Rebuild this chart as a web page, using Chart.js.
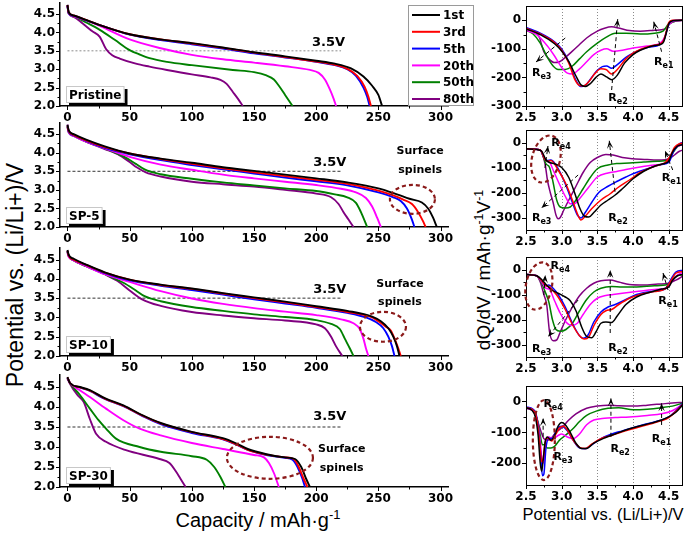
<!DOCTYPE html>
<html><head><meta charset="utf-8">
<script src="https://cdn.jsdelivr.net/npm/chart.js@4.4.1/dist/chart.umd.min.js"></script>
<style>
html,body{margin:0;padding:0;background:#fff;}
body{width:688px;height:534px;overflow:hidden;position:relative;font-family:"Liberation Sans",Arial,sans-serif;}
canvas{position:absolute;}
.t{position:absolute;white-space:nowrap;color:#000;line-height:1;}
.t sup{font-size:65%;vertical-align:0.55em;}
</style></head><body>
<div class="t" style="left:15px;top:275px;font-size:23px;transform:translate(-50%,-50%) rotate(-90deg)">Potential vs. (Li/Li+)/V</div>
<div class="t" style="left:258px;top:519px;font-size:20px;transform:translate(-50%,-50%)">Capacity / mAh·g<sup>-1</sup></div>
<div class="t" style="left:603px;top:514px;font-size:16.5px;transform:translate(-50%,-50%)">Potential vs. (Li/Li+)/V</div>
<div class="t" style="left:483px;top:270px;font-size:19px;transform:translate(-50%,-50%) rotate(-90deg)">dQ/dV / mAh·g<sup>-1</sup>V<sup>-1</sup></div>
<script>
// ================= DATA =================
const cycleLabels = ['1st','3rd','5th','20th','50th','80th'];
const capTicks  = [0,50,100,150,200,250,300];
const voltTicks = [2.0,2.5,3.0,3.5,4.0,4.5];
const potTicks  = [2.5,3.0,3.5,4.0,4.5];
const dqTicks   = [0,-100,-200,-300];
const dqTicksSP30 = [0,-100,-200];
const sampleNames = ['Pristine','SP-5','SP-10','SP-30'];
const refLine = [[0,3.5],[220,3.5]];

// discharge curves [capacity mAh/g, potential V]
const pri_1st  = [[0,4.75],[1,4.55],[5,4.46],[15,4.34],[26,4.2],[50,3.95],[75,3.81],[100,3.71],[125,3.59],[150,3.46],[175,3.35],[200,3.23],[215,3.15],[228,3.02],[238,2.8],[245,2.55],[250,2.3],[253,2.0]];
const pri_3rd  = [[0,4.74],[1,4.54],[5,4.46],[15,4.34],[26,4.2],[50,3.95],[75,3.81],[100,3.70],[125,3.58],[150,3.45],[175,3.33],[200,3.21],[215,3.12],[225,3.01],[233,2.82],[239,2.52],[242,2.25],[244,2.0]];
const pri_5th  = [[0,4.72],[1,4.52],[5,4.45],[15,4.33],[26,4.2],[50,3.94],[75,3.79],[100,3.68],[125,3.56],[150,3.43],[175,3.32],[200,3.2],[215,3.11],[225,3.0],[232,2.82],[238,2.5],[241,2.25],[243,2.0]];
const pri_20th = [[0,4.72],[1,4.52],[5,4.44],[15,4.33],[26,4.18],[50,3.81],[75,3.57],[100,3.39],[125,3.27],[150,3.18],[175,3.08],[195,2.98],[202,2.9],[207,2.72],[211,2.45],[214,2.2],[216,2.0]];
const pri_50th = [[0,4.72],[1,4.52],[5,4.44],[15,4.27],[26,4.07],[38,3.8],[50,3.52],[58,3.4],[66,3.3],[80,3.2],[100,3.11],[133,2.98],[150,2.92],[160,2.83],[166,2.72],[170,2.55],[175,2.3],[181,2.0]];
const pri_80th = [[0,4.75],[1,4.52],[5,4.42],[12,4.25],[20,4.03],[26,3.88],[31,3.55],[36,3.38],[42,3.29],[55,3.15],[66,3.07],[80,2.98],[100,2.86],[115,2.78],[123,2.71],[128,2.6],[133,2.38],[137,2.2],[141,2.0]];

const sp5_1st  = [[0,4.75],[1,4.6],[5,4.5],[15,4.35],[30,4.17],[50,3.98],[75,3.84],[100,3.73],[125,3.61],[150,3.51],[175,3.41],[200,3.31],[225,3.2],[250,3.04],[265,2.88],[275,2.76],[285,2.66],[290,2.5],[294,2.25],[297,2.0]];
const sp5_3rd  = [[0,4.72],[1,4.58],[5,4.48],[15,4.33],[30,4.15],[50,3.98],[75,3.83],[100,3.7],[125,3.58],[150,3.47],[175,3.37],[200,3.27],[225,3.16],[250,2.98],[262,2.85],[270,2.74],[277,2.62],[282,2.4],[286,2.15],[288,2.0]];
const sp5_5th  = [[0,4.72],[1,4.56],[5,4.47],[15,4.32],[30,4.13],[50,3.96],[75,3.8],[100,3.67],[125,3.55],[150,3.44],[175,3.33],[200,3.23],[225,3.12],[250,2.93],[262,2.8],[268,2.7],[273,2.5],[277,2.2],[279,2.0]];
const sp5_20th = [[0,4.68],[1,4.55],[5,4.45],[15,4.3],[30,4.12],[50,3.89],[75,3.68],[100,3.54],[125,3.41],[150,3.31],[175,3.22],[200,3.13],[220,3.03],[232,2.93],[240,2.78],[245,2.55],[249,2.25],[252,2.0]];
const sp5_50th = [[0,4.7],[1,4.55],[5,4.45],[15,4.3],[30,4.12],[45,3.9],[55,3.7],[62,3.55],[75,3.42],[100,3.3],[125,3.2],[150,3.12],[175,3.04],[200,2.97],[215,2.88],[225,2.8],[232,2.65],[236,2.4],[241,2.0]];
const sp5_80th = [[0,4.76],[1,4.6],[5,4.47],[15,4.3],[30,4.1],[42,3.93],[50,3.75],[56,3.6],[63,3.47],[75,3.36],[100,3.22],[125,3.15],[150,3.09],[175,3.0],[200,2.9],[212,2.8],[218,2.62],[222,2.4],[226,2.2],[230,2.0]];

const sp10_1st  = [[0,4.75],[1,4.62],[5,4.52],[15,4.37],[30,4.17],[50,3.98],[75,3.85],[100,3.75],[125,3.63],[150,3.52],[175,3.41],[200,3.29],[225,3.17],[245,3.02],[252,2.9],[258,2.72],[262,2.5],[265,2.25],[267,2.0]];
const sp10_3rd  = [[0,4.73],[1,4.6],[5,4.5],[15,4.36],[30,4.16],[50,3.98],[75,3.84],[100,3.74],[125,3.62],[150,3.5],[175,3.39],[200,3.27],[225,3.14],[245,3.0],[250,2.9],[256,2.76],[260,2.66],[263,2.45],[266,2.2],[268,2.0]];
const sp10_5th  = [[0,4.72],[1,4.6],[5,4.5],[15,4.36],[30,4.15],[50,3.96],[75,3.82],[100,3.71],[125,3.59],[150,3.47],[175,3.36],[200,3.25],[225,3.12],[240,3.0],[248,2.88],[254,2.72],[258,2.5],[261,2.25],[263,2.0]];
const sp10_20th = [[0,4.68],[1,4.57],[5,4.48],[15,4.33],[30,4.12],[50,3.92],[75,3.68],[100,3.49],[125,3.35],[150,3.24],[175,3.15],[200,3.06],[220,2.95],[230,2.85],[235,2.7],[238,2.45],[240,2.2],[242,2.0]];
const sp10_50th = [[0,4.7],[1,4.58],[5,4.48],[15,4.33],[30,4.12],[45,3.9],[55,3.7],[62,3.55],[75,3.42],[100,3.27],[125,3.17],[150,3.08],[175,3.01],[200,2.93],[212,2.83],[219,2.7],[223,2.45],[227,2.2],[230,2.0]];
const sp10_80th = [[0,4.72],[1,4.6],[5,4.48],[15,4.33],[30,4.12],[40,3.95],[50,3.7],[60,3.47],[75,3.3],[100,3.14],[125,3.05],[150,2.98],[175,2.92],[200,2.82],[207,2.72],[212,2.5],[216,2.25],[221,2.0]];

const sp30_1st  = [[0,4.75],[2,4.6],[10,4.5],[18,4.42],[30,4.22],[45,4.04],[60,3.8],[75,3.6],[100,3.38],[125,3.22],[135,3.1],[145,2.95],[160,2.82],[175,2.74],[183,2.7],[188,2.5],[192,2.2],[195,2.0]];
const sp30_3rd  = [[0,4.74],[2,4.6],[10,4.49],[18,4.41],[30,4.21],[45,4.03],[60,3.79],[75,3.59],[100,3.37],[125,3.2],[135,3.08],[145,2.93],[160,2.81],[175,2.74],[182,2.7],[186,2.5],[190,2.2],[193,2.0]];
const sp30_5th  = [[0,4.73],[2,4.6],[10,4.49],[18,4.4],[30,4.2],[45,4.02],[60,3.78],[75,3.57],[100,3.35],[125,3.19],[135,3.07],[145,2.93],[160,2.8],[175,2.73],[181,2.68],[185,2.5],[189,2.2],[191,2.0]];
const sp30_20th = [[0,4.72],[2,4.6],[10,4.42],[18,4.25],[31,3.96],[45,3.67],[58,3.46],[75,3.29],[100,3.1],[125,2.95],[150,2.8],[158,2.74],[162,2.6],[166,2.35],[170,2.0]];
const sp30_50th = [[0,4.72],[2,4.6],[10,4.3],[18,3.96],[25,3.67],[31,3.46],[39,3.21],[58,3.0],[75,2.88],[100,2.77],[112,2.68],[118,2.5],[123,2.25],[127,2.0]];
const sp30_80th = [[0,4.72],[2,4.58],[8,4.3],[13,4.13],[18,3.7],[23,3.33],[31,3.13],[47,2.92],[74,2.7],[82,2.6],[87,2.4],[91,2.2],[95,2.0]];

// dQ/dV curves [potential V, dQ/dV]
const dq_pri_1st  = [[2.5,-30],[2.7,-50],[2.9,-82],[3.0,-108],[3.1,-145],[3.2,-195],[3.27,-226],[3.33,-232],[3.4,-222],[3.48,-200],[3.55,-188],[3.63,-198],[3.7,-208],[3.78,-192],[3.88,-150],[4.0,-120],[4.1,-105],[4.2,-95],[4.3,-88],[4.38,-85],[4.43,-75],[4.47,-40],[4.5,-12],[4.55,-2],[4.7,0]];
const dq_pri_3rd  = [[2.5,-28],[2.7,-48],[2.9,-78],[3.0,-105],[3.1,-150],[3.18,-205],[3.25,-228],[3.3,-230],[3.38,-215],[3.47,-185],[3.55,-170],[3.62,-172],[3.7,-188],[3.78,-172],[3.9,-135],[4.0,-115],[4.1,-102],[4.2,-93],[4.3,-87],[4.38,-83],[4.43,-70],[4.47,-35],[4.5,-8],[4.55,0],[4.7,0]];
const dq_pri_5th  = [[2.5,-25],[2.7,-45],[2.9,-75],[3.0,-100],[3.1,-145],[3.2,-210],[3.27,-232],[3.33,-228],[3.42,-200],[3.5,-175],[3.57,-162],[3.63,-160],[3.7,-168],[3.78,-155],[3.9,-130],[4.0,-115],[4.2,-95],[4.38,-85],[4.44,-65],[4.48,-30],[4.52,-5],[4.6,0],[4.7,0]];
const dq_pri_20th = [[2.5,-35],[2.65,-50],[2.8,-90],[2.9,-125],[3.0,-165],[3.08,-185],[3.15,-188],[3.25,-170],[3.35,-145],[3.45,-120],[3.55,-105],[3.63,-100],[3.72,-108],[3.85,-105],[4.0,-97],[4.2,-90],[4.38,-80],[4.45,-55],[4.5,-15],[4.6,-2],[4.7,0]];
const dq_pri_50th = [[2.5,-35],[2.6,-48],[2.7,-80],[2.8,-130],[2.88,-160],[2.95,-172],[3.05,-172],[3.15,-160],[3.25,-135],[3.35,-110],[3.5,-80],[3.62,-60],[3.75,-45],[3.9,-45],[4.1,-48],[4.3,-45],[4.42,-38],[4.5,-12],[4.6,-3],[4.7,0]];
const dq_pri_80th = [[2.5,-30],[2.6,-38],[2.68,-55],[2.75,-110],[2.82,-135],[2.9,-148],[2.97,-145],[3.05,-130],[3.15,-108],[3.25,-85],[3.35,-62],[3.5,-38],[3.6,-28],[3.7,-23],[3.8,-27],[3.95,-36],[4.1,-38],[4.3,-35],[4.45,-30],[4.52,-12],[4.6,-3],[4.7,0]];

const dq_sp5_1st  = [[2.5,-25],[2.65,-28],[2.72,-35],[2.78,-70],[2.83,-80],[2.9,-85],[3.0,-100],[3.1,-140],[3.18,-200],[3.25,-260],[3.32,-295],[3.38,-298],[3.45,-280],[3.55,-250],[3.65,-230],[3.75,-210],[3.85,-185],[4.0,-145],[4.15,-115],[4.3,-95],[4.42,-85],[4.5,-75],[4.55,-40],[4.62,-15],[4.7,-8]];
const dq_sp5_3rd  = [[2.5,-25],[2.7,-30],[2.76,-65],[2.8,-75],[2.85,-72],[2.95,-110],[3.05,-160],[3.15,-230],[3.22,-285],[3.27,-310],[3.33,-295],[3.42,-265],[3.55,-230],[3.68,-205],[3.78,-182],[3.95,-150],[4.1,-120],[4.3,-95],[4.45,-80],[4.52,-55],[4.58,-20],[4.65,-5],[4.7,-3]];
const dq_sp5_5th  = [[2.5,-25],[2.7,-30],[2.75,-60],[2.8,-72],[2.85,-70],[2.95,-105],[3.05,-165],[3.15,-240],[3.22,-290],[3.27,-302],[3.33,-280],[3.42,-240],[3.52,-200],[3.65,-175],[3.78,-155],[3.9,-138],[4.0,-125],[4.2,-105],[4.4,-88],[4.5,-80],[4.57,-35],[4.65,-5],[4.7,0]];
const dq_sp5_20th = [[2.5,-25],[2.7,-30],[2.74,-50],[2.78,-72],[2.83,-78],[2.88,-110],[2.95,-155],[3.05,-215],[3.12,-245],[3.18,-245],[3.25,-225],[3.37,-182],[3.5,-138],[3.65,-122],[3.77,-116],[3.9,-108],[4.1,-98],[4.3,-90],[4.47,-80],[4.53,-50],[4.6,-20],[4.7,-8]];
const dq_sp5_50th = [[2.5,-25],[2.7,-30],[2.74,-55],[2.78,-85],[2.83,-100],[2.88,-160],[2.93,-230],[2.98,-258],[3.05,-262],[3.12,-258],[3.2,-230],[3.3,-185],[3.4,-140],[3.5,-105],[3.65,-90],[3.77,-84],[3.95,-82],[4.15,-78],[4.35,-75],[4.5,-70],[4.56,-40],[4.63,-15],[4.7,-5]];
const dq_sp5_80th = [[2.5,-25],[2.7,-30],[2.73,-45],[2.77,-90],[2.8,-150],[2.84,-200],[2.88,-240],[2.92,-290],[2.95,-305],[2.98,-300],[3.03,-270],[3.1,-230],[3.2,-175],[3.3,-120],[3.4,-80],[3.5,-60],[3.62,-48],[3.72,-50],[3.85,-60],[4.0,-65],[4.2,-68],[4.4,-70],[4.5,-65],[4.58,-50],[4.65,-35],[4.7,-30]];

const dq_sp10_1st  = [[2.5,-20],[2.65,-25],[2.72,-40],[2.78,-60],[2.85,-80],[2.95,-95],[3.05,-110],[3.12,-125],[3.2,-165],[3.28,-230],[3.35,-268],[3.42,-273],[3.48,-250],[3.55,-215],[3.62,-210],[3.7,-212],[3.78,-185],[3.9,-140],[4.05,-110],[4.25,-90],[4.4,-78],[4.5,-70],[4.55,-45],[4.62,-25],[4.7,-20]];
const dq_sp10_3rd  = [[2.5,-20],[2.65,-25],[2.72,-45],[2.78,-65],[2.82,-68],[2.88,-85],[2.95,-110],[3.05,-160],[3.15,-220],[3.25,-265],[3.32,-278],[3.38,-270],[3.45,-225],[3.55,-180],[3.62,-165],[3.7,-160],[3.8,-140],[3.95,-115],[4.1,-100],[4.3,-88],[4.45,-78],[4.52,-50],[4.6,-15],[4.7,-8]];
const dq_sp10_5th  = [[2.5,-20],[2.65,-25],[2.72,-45],[2.78,-65],[2.82,-62],[2.88,-75],[2.95,-100],[3.05,-150],[3.15,-215],[3.25,-265],[3.3,-275],[3.37,-262],[3.45,-210],[3.55,-170],[3.65,-150],[3.75,-140],[3.9,-120],[4.05,-100],[4.25,-88],[4.45,-78],[4.53,-40],[4.6,-10],[4.7,-3]];
const dq_sp10_20th = [[2.5,-20],[2.65,-25],[2.72,-50],[2.78,-75],[2.83,-80],[2.9,-125],[2.98,-175],[3.06,-210],[3.14,-224],[3.22,-215],[3.3,-180],[3.4,-140],[3.5,-115],[3.6,-105],[3.72,-100],[3.85,-95],[4.05,-88],[4.3,-80],[4.48,-72],[4.55,-45],[4.62,-22],[4.7,-12]];
const dq_sp10_50th = [[2.5,-20],[2.65,-25],[2.72,-55],[2.77,-90],[2.82,-130],[2.87,-200],[2.92,-240],[2.98,-247],[3.06,-240],[3.15,-215],[3.25,-165],[3.35,-120],[3.45,-90],[3.55,-75],[3.7,-68],[3.85,-70],[4.05,-70],[4.3,-65],[4.48,-60],[4.55,-40],[4.62,-25],[4.7,-20]];
const dq_sp10_80th = [[2.5,-20],[2.65,-25],[2.7,-50],[2.75,-100],[2.79,-140],[2.83,-250],[2.88,-285],[2.93,-282],[2.98,-250],[3.05,-205],[3.15,-150],[3.25,-105],[3.35,-75],[3.45,-55],[3.55,-45],[3.68,-42],[3.8,-50],[3.95,-60],[4.15,-62],[4.35,-58],[4.5,-55],[4.58,-45],[4.65,-35],[4.7,-25]];

const dq_sp30_1st  = [[2.5,-20],[2.58,-28],[2.63,-50],[2.67,-110],[2.7,-200],[2.72,-225],[2.74,-190],[2.77,-130],[2.8,-115],[2.85,-125],[2.9,-110],[2.95,-80],[3.0,-68],[3.05,-75],[3.12,-100],[3.2,-135],[3.28,-152],[3.35,-152],[3.45,-135],[3.6,-118],[3.75,-105],[3.9,-92],[4.05,-82],[4.25,-70],[4.4,-60],[4.5,-50],[4.6,-35],[4.7,-10]];
const dq_sp30_3rd  = [[2.5,-20],[2.6,-28],[2.65,-55],[2.69,-130],[2.72,-195],[2.74,-185],[2.77,-130],[2.8,-118],[2.86,-128],[2.92,-105],[2.97,-85],[3.02,-80],[3.08,-92],[3.16,-125],[3.25,-148],[3.33,-152],[3.42,-138],[3.55,-120],[3.7,-110],[3.85,-98],[4.0,-88],[4.2,-75],[4.4,-62],[4.5,-52],[4.6,-32],[4.7,-8]];
const dq_sp30_5th  = [[2.5,-18],[2.6,-25],[2.65,-50],[2.7,-150],[2.73,-240],[2.75,-235],[2.78,-150],[2.82,-120],[2.87,-120],[2.93,-90],[3.0,-80],[3.08,-95],[3.16,-125],[3.25,-150],[3.33,-153],[3.42,-140],[3.55,-120],[3.7,-105],[3.85,-95],[4.0,-85],[4.2,-72],[4.4,-60],[4.5,-50],[4.6,-30],[4.7,-5]];
const dq_sp30_20th = [[2.5,-22],[2.6,-30],[2.65,-55],[2.7,-130],[2.73,-200],[2.75,-195],[2.78,-130],[2.82,-115],[2.88,-120],[2.95,-110],[3.0,-105],[3.08,-115],[3.16,-120],[3.25,-105],[3.35,-75],[3.45,-60],[3.6,-54],[3.75,-52],[3.95,-50],[4.2,-45],[4.4,-40],[4.55,-30],[4.7,-8]];
const dq_sp30_50th = [[2.5,-22],[2.6,-30],[2.66,-60],[2.7,-110],[2.73,-140],[2.76,-140],[2.8,-150],[2.85,-150],[2.9,-145],[2.97,-125],[3.05,-110],[3.15,-90],[3.25,-65],[3.35,-45],[3.5,-30],[3.65,-22],[3.8,-20],[4.0,-27],[4.2,-25],[4.4,-20],[4.55,-15],[4.7,-5]];
const dq_sp30_80th = [[2.5,-20],[2.6,-30],[2.65,-55],[2.7,-90],[2.75,-120],[2.8,-125],[2.85,-120],[2.9,-105],[3.0,-85],[3.1,-60],[3.2,-40],[3.35,-22],[3.5,-15],[3.65,-12],[3.8,-14],[4.0,-15],[4.2,-12],[4.4,-8],[4.55,-5],[4.7,-3]];

// ================= STYLE / LAYOUT =================
const cycleColors = ['#000000','#ff0000','#0000ff','#ff00ff','#008000','#800080'];
const TICKFONT = {family:'DejaVu Sans', size:12, weight:'bold'};
Chart.defaults.font.family = 'DejaVu Sans';
Chart.defaults.color = '#000';

function mid(a){ const m=[]; for(let i=0;i<a.length-1;i++) m.push((a[i]+a[i+1])/2); return m; }
function toXY(arr){ return arr.map(p=>({x:p[0], y:p[1]})); }

function makeDecor(cfg){
  return {
    id:'decor',
    beforeDatasetsDraw(chart){
      const {ctx, chartArea:a, scales:{x}} = chart;
      if (cfg.vgrid){
        ctx.save(); ctx.strokeStyle='#8a8a8a'; ctx.lineWidth=1; ctx.setLineDash([1,2]);
        cfg.vgrid.forEach(v=>{ const px=Math.round(x.getPixelForValue(v))+0.5;
          ctx.beginPath(); ctx.moveTo(px,a.top); ctx.lineTo(px,a.bottom); ctx.stroke(); });
        ctx.restore();
      }
    },
    afterDraw(chart){
      const {ctx, chartArea:a, scales:{x,y}} = chart;
      ctx.save();
      if (cfg.legend){
        const lx=a.right-40, ly=a.top+2, lw=65, lh=a.bottom-1-ly;
        ctx.fillStyle='#fff'; ctx.fillRect(lx,ly,lw,lh);
        ctx.strokeStyle='#9a9a9a'; ctx.lineWidth=1; ctx.strokeRect(lx+0.5,ly+0.5,lw,lh);
        ctx.font='bold 12px "DejaVu Sans"'; ctx.textAlign='left'; ctx.textBaseline='middle';
        chart.data.datasets.slice(0,6).forEach((ds,i)=>{
          const ry = ly+10+i*16.8;
          ctx.strokeStyle=ds.borderColor; ctx.lineWidth=2;
          ctx.beginPath(); ctx.moveTo(lx+4,ry); ctx.lineTo(lx+32,ry); ctx.stroke();
          ctx.fillStyle='#000'; ctx.fillText(ds.label, lx+35, ry+1);
        });
      }
      if (cfg.frame){
        ctx.strokeStyle='#000'; ctx.lineWidth=1;
        ctx.strokeRect(Math.round(a.left)+0.5, Math.round(a.top)+0.5, Math.round(a.right-a.left)-1, Math.round(a.bottom-a.top));
      }
      ctx.strokeStyle='#000'; ctx.lineWidth=1;
      const xt = cfg.xTicks.map(v=>[v,4]).concat(mid(cfg.xTicks).map(v=>[v,2.5]));
      xt.forEach(([v,len])=>{ const px=Math.round(x.getPixelForValue(v))+0.5;
        ctx.beginPath(); ctx.moveTo(px,a.bottom); ctx.lineTo(px,a.bottom+len); ctx.stroke(); });
      const yt = cfg.yTicks.map(v=>[v,4]).concat(mid(cfg.yTicks).map(v=>[v,2.5]));
      yt.forEach(([v,len])=>{ const py=Math.round(y.getPixelForValue(v))+0.5;
        ctx.beginPath(); ctx.moveTo(a.left,py); ctx.lineTo(a.left-len,py); ctx.stroke(); });
      (cfg.notes||[]).forEach(n=>{
        if (n.t==='text'){
          ctx.font=n.font; ctx.fillStyle='#000'; ctx.textAlign='center'; ctx.textBaseline='middle';
          ctx.fillText(n.s, x.getPixelForValue(n.x), y.getPixelForValue(n.y));
        } else if (n.t==='re'){
          const px=x.getPixelForValue(n.x), py=y.getPixelForValue(n.y);
          ctx.font='bold 11px "DejaVu Sans"'; const w1=ctx.measureText('R').width;
          ctx.font='bold 8px "DejaVu Sans"'; const w2=ctx.measureText(n.s).width;
          const x0=px-(w1+w2)/2; ctx.fillStyle='#000'; ctx.textAlign='left'; ctx.textBaseline='alphabetic';
          ctx.font='bold 11px "DejaVu Sans"'; ctx.fillText('R', x0, py+4);
          ctx.font='bold 8px "DejaVu Sans"'; ctx.fillText(n.s, x0+w1, py+7);
        } else if (n.t==='ell'){
          const cx=x.getPixelForValue(n.x), cy=y.getPixelForValue(n.y);
          const rx=Math.abs(x.getPixelForValue(n.x+n.rx)-cx), ry=Math.abs(y.getPixelForValue(n.y+n.ry)-cy);
          ctx.strokeStyle='#8b1a1a'; ctx.lineWidth=2.2; ctx.setLineDash([4,3]);
          ctx.beginPath(); ctx.ellipse(cx,cy,rx,ry,n.rot||0,0,Math.PI*2); ctx.stroke(); ctx.setLineDash([]);
        } else if (n.t==='arrow'){
          const x1=x.getPixelForValue(n.x1), y1=y.getPixelForValue(n.y1), x2=x.getPixelForValue(n.x2), y2=y.getPixelForValue(n.y2);
          ctx.strokeStyle='#000'; ctx.fillStyle='#000'; ctx.lineWidth=1; ctx.setLineDash([4,3]);
          ctx.beginPath(); ctx.moveTo(x1,y1); ctx.lineTo(x2,y2); ctx.stroke(); ctx.setLineDash([]);
          const ang=Math.atan2(y2-y1,x2-x1), L=8, W=3.2, c=Math.cos(ang), s=Math.sin(ang);
          ctx.beginPath(); ctx.moveTo(x2,y2);
          ctx.lineTo(x2-L*c+W*s, y2-L*s-W*c); ctx.lineTo(x2-0.55*L*c, y2-0.55*L*s);
          ctx.lineTo(x2-L*c-W*s, y2-L*s+W*c); ctx.closePath(); ctx.fill();
        }
      });
      if (cfg.label){
        ctx.font='bold 12px "DejaVu Sans"'; const tw=ctx.measureText(cfg.label).width;
        const bw=tw+6, bh=17, bx=Math.round(x.getPixelForValue(0))-1, by=Math.round(a.bottom)-bh-3;
        ctx.fillStyle='#000'; ctx.fillRect(bx+3,by+3,bw,bh);
        ctx.fillStyle='#fff'; ctx.fillRect(bx,by,bw,bh);
        ctx.strokeStyle='#c8c8c8'; ctx.lineWidth=1; ctx.strokeRect(bx+0.5,by+0.5,bw-1,bh-1);
        ctx.fillStyle='#000'; ctx.textAlign='center'; ctx.textBaseline='middle';
        ctx.fillText(cfg.label, bx+bw/2, by+bh/2+1);
      }
      ctx.restore();
    }
  };
}

function makePanel(p){
  const padT=14, padB=22, padL=p.axisW, padR=p.padR;
  const W=(p.r-p.l)+padL+padR, H=(p.b-p.t)+padT+padB;
  const c=document.createElement('canvas');
  c.width=W; c.height=H; c.style.width=W+'px'; c.style.height=H+'px';
  c.style.left=(p.l-padL)+'px'; c.style.top=(p.t-padT)+'px';
  document.body.appendChild(c);
  const datasets = p.series.map((s,i)=>({
    label: cycleLabels[i], data: toXY(s), borderColor: cycleColors[i], backgroundColor: cycleColors[i],
    borderWidth: p.lw, pointRadius:0, fill:false, cubicInterpolationMode:'monotone'
  }));
  if (p.ref){ datasets.push({label:'ref', data:toXY(p.ref), borderColor:p.refColor, borderWidth:1, borderDash:p.refDash, pointRadius:0, fill:false}); }
  const fmtX = p.xFmt, fmtY = p.yFmt;
  new Chart(c, {
    type:'line',
    data:{datasets},
    options:{
      responsive:false, animation:false, devicePixelRatio:1,
      layout:{padding:{top:padT,right:padR,left:0,bottom:0}},
      plugins:{legend:{display:false}, tooltip:{enabled:false}},
      scales:{
        x:{type:'linear', min:p.xmin, max:p.xmax,
           afterFit:s=>{s.height=padB;},
           afterBuildTicks:s=>{s.ticks=p.xTicks.map(v=>({value:v}));},
           grid:{display:false, drawTicks:true, tickLength:4},
           border:{display:!p.frame, color:'#000', width:1.5},
           ticks:{font:TICKFONT, color:'#000', padding:1, maxRotation:0, autoSkip:false, callback:v=>fmtX(v)}},
        y:{type:'linear', min:p.ymin, max:p.ymax,
           afterFit:s=>{s.width=padL;},
           afterBuildTicks:s=>{s.ticks=p.yTicks.map(v=>({value:v}));},
           grid:{display:false, drawTicks:true, tickLength:4},
           border:{display:!p.frame, color:'#000', width:1.5},
           ticks:{font:TICKFONT, color:'#000', padding:1, autoSkip:false, callback:v=>fmtY(v)}}
      }
    },
    plugins:[makeDecor(p)]
  });
}

const F35 = 'bold 13px "DejaVu Sans"', FSP = 'bold 11px "DejaVu Sans"';
const leftSeries = [
  [pri_1st,pri_3rd,pri_5th,pri_20th,pri_50th,pri_80th],
  [sp5_1st,sp5_3rd,sp5_5th,sp5_20th,sp5_50th,sp5_80th],
  [sp10_1st,sp10_3rd,sp10_5th,sp10_20th,sp10_50th,sp10_80th],
  [sp30_1st,sp30_3rd,sp30_5th,sp30_20th,sp30_50th,sp30_80th]
];
const rightSeries = [
  [dq_pri_1st,dq_pri_3rd,dq_pri_5th,dq_pri_20th,dq_pri_50th,dq_pri_80th],
  [dq_sp5_1st,dq_sp5_3rd,dq_sp5_5th,dq_sp5_20th,dq_sp5_50th,dq_sp5_80th],
  [dq_sp10_1st,dq_sp10_3rd,dq_sp10_5th,dq_sp10_20th,dq_sp10_50th,dq_sp10_80th],
  [dq_sp30_1st,dq_sp30_3rd,dq_sp30_5th,dq_sp30_20th,dq_sp30_50th,dq_sp30_80th]
];
const leftBoxes = [{t:3,b:106},{t:123,b:227},{t:248,b:356},{t:375,b:487}];
const leftNotes = [
  [{t:'text',s:'3.5V',x:210,y:3.72,font:F35}],
  [{t:'text',s:'3.5V',x:211,y:3.72,font:F35},{t:'text',s:'Surface',x:283.6,y:4.03,font:FSP},{t:'text',s:'spinels',x:283.6,y:3.54,font:FSP},{t:'ell',x:277.4,y:2.745,rx:18.1,ry:0.389}],
  [{t:'text',s:'3.5V',x:211,y:3.71,font:F35},{t:'text',s:'Surface',x:267.4,y:3.86,font:FSP},{t:'text',s:'spinels',x:267.4,y:3.39,font:FSP},{t:'ell',x:253.7,y:2.757,rx:18.5,ry:0.388}],
  [{t:'text',s:'3.5V',x:211,y:3.75,font:F35},{t:'text',s:'Surface',x:220.5,y:2.94,font:FSP},{t:'text',s:'spinels',x:220.5,y:2.46,font:FSP},{t:'ell',x:162.8,y:2.73,rx:34.6,ry:0.525}]
];
leftBoxes.forEach((bx,i)=>{
  makePanel({l:60, r:448, t:bx.t, b:bx.b, axisW:60, padR: i===0?30:16,
    xmin:-6, xmax:306, ymin:2.0, ymax:4.8, xTicks:capTicks, yTicks:voltTicks,
    xFmt:v=>String(v), yFmt:v=>v.toFixed(1),
    series:leftSeries[i], lw:1.9, ref:refLine, refColor: i===0?'#8c8c8c':'#333', refDash: i===0?[2,2]:[3,2],
    frame:false, legend:i===0, label:sampleNames[i], notes:leftNotes[i]});
});

const rightBoxes = [{t:6,b:106,ymin:-300,ymax:50,yt:dqTicks},{t:130,b:230,ymin:-350,ymax:50,yt:dqTicks},{t:257,b:357,ymin:-350,ymax:50,yt:dqTicks},{t:386,b:485,ymin:-270,ymax:50,yt:dqTicksSP30}];
const rightNotes = [
  [{t:'arrow',x1:3.05,y1:-62,x2:2.64,y2:-146},{t:'re',s:'e3',x:2.72,y:-180},
   {t:'arrow',x1:3.70,y1:-244,x2:3.785,y2:4},{t:'re',s:'e2',x:3.79,y:-267},
   {t:'arrow',x1:4.40,y1:-110,x2:4.29,y2:-5},{t:'re',s:'e1',x:4.43,y:-141}],
  [{t:'ell',x:2.78,y:-66,rx:0.196,ry:96,rot:0.25},{t:'re',s:'e4',x:2.99,y:3},{t:'arrow',x1:2.766,y1:-102,x2:2.808,y2:-14},
   {t:'arrow',x1:3.23,y1:-130,x2:2.717,y2:-262},{t:'re',s:'e3',x:2.72,y:-299},
   {t:'arrow',x1:3.747,y1:-197,x2:3.667,y2:7},{t:'re',s:'e2',x:3.79,y:-297},
   {t:'arrow',x1:4.556,y1:-110,x2:4.448,y2:-33},{t:'re',s:'e1',x:4.54,y:-139}],
  [{t:'ell',x:2.68,y:-66,rx:0.182,ry:96,rot:0.2},{t:'re',s:'e4',x:2.98,y:18},{t:'arrow',x1:2.75,y1:-102,x2:2.77,y2:-22},
   {t:'arrow',x1:3.23,y1:-122,x2:2.81,y2:-269},{t:'re',s:'e3',x:2.72,y:-315},
   {t:'arrow',x1:3.68,y1:-254,x2:3.68,y2:-2},{t:'re',s:'e2',x:3.79,y:-309},
   {t:'arrow',x1:4.49,y1:-82,x2:4.42,y2:-14},{t:'re',s:'e1',x:4.49,y:-122}],
  [{t:'ell',x:2.75,y:-125,rx:0.154,ry:129,rot:0},{t:'re',s:'e4',x:2.88,y:-6},{t:'arrow',x1:2.74,y1:-114,x2:2.74,y2:-54},
   {t:'re',s:'e3',x:3.02,y:-176},
   {t:'arrow',x1:3.69,y1:-114,x2:3.69,y2:10},{t:'re',s:'e2',x:3.82,y:-151},
   {t:'arrow',x1:4.40,y1:-76,x2:4.40,y2:-6},{t:'re',s:'e1',x:4.40,y:-119}]
];
rightBoxes.forEach((bx,i)=>{
  makePanel({l:526, r:683, t:bx.t, b:bx.b, axisW:36, padR:5,
    xmin:2.5, xmax:4.7, ymin:bx.ymin, ymax:bx.ymax, xTicks:potTicks, yTicks:bx.yt,
    xFmt:v=>v.toFixed(1), yFmt:v=>String(v),
    series:rightSeries[i], lw:1.5, frame:true, vgrid:[3.0,3.5,4.0,4.5], notes:rightNotes[i]});
});
</script>
</body></html>
